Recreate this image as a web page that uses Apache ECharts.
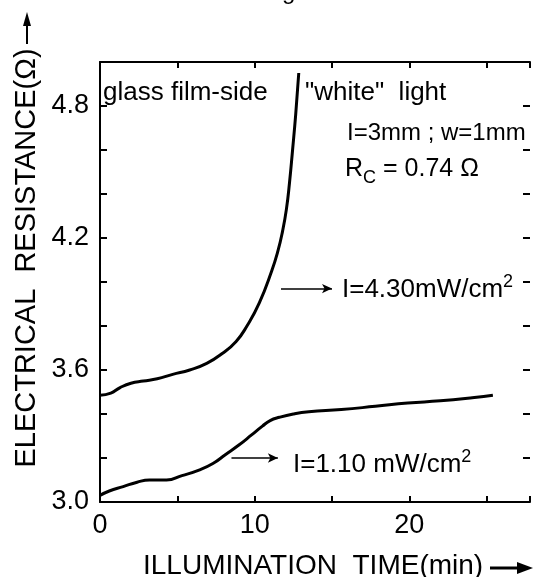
<!DOCTYPE html>
<html>
<head>
<meta charset="utf-8">
<script src="https://cdn.jsdelivr.net/npm/echarts@6/dist/echarts.min.js"></script>
<style>
	html, body { margin: 0; padding: 0; background: #fff; }
	#resChart { width: 533px; height: 577px; }
</style>
</head>
<body>
<div id="resChart"></div>
<script>
// I = 4.30 mW/cm2 curve
var timeHigh = [0, 0.7, 1.3, 2.0, 2.8, 3.7, 4.7, 5.8, 6.9, 7.9, 8.8, 9.5, 10.3, 11.1, 11.5, 11.8, 12.05, 12.25, 12.45, 12.65, 12.85];
var resHigh = [3.485, 3.495, 3.52, 3.54, 3.55, 3.56, 3.58, 3.60, 3.63, 3.675, 3.73, 3.80, 3.905, 4.05, 4.14, 4.23, 4.33, 4.45, 4.60, 4.76, 4.95];
// I = 1.10 mW/cm2 curve
var timeLow = [0, 0.6, 1.5, 2.4, 3.2, 4.3, 5.3, 6.4, 7.3, 8.1, 9.0, 9.8, 10.5, 11.0, 11.6, 12.5, 13.5, 15.6, 17.8, 19.9, 22.0, 24.2, 25.4];
var resLow = [3.03, 3.05, 3.07, 3.09, 3.10, 3.10, 3.12, 3.145, 3.175, 3.215, 3.26, 3.305, 3.345, 3.37, 3.385, 3.40, 3.41, 3.42, 3.435, 3.45, 3.46, 3.475, 3.485];
var xTickLabels = [0, 10, 20];
var yTickLabels = [3.0, 3.6, 4.2, 4.8];

var font = 'Liberation Sans';

function pairs(xs, ys) {
	var out = [];
	for (var i = 0; i < xs.length; i++) {
		out.push([xs[i], ys[i]]);
	}
	return out;
}

function hasLabel(list, v) {
	for (var i = 0; i < list.length; i++) {
		if (Math.abs(list[i] - v) < 1e-6) return true;
	}
	return false;
}

function axisX(pos, showLabel) {
	return {
		type: 'value',
		position: pos,
		min: 0,
		max: 27.8,
		interval: 5,
		splitLine: { show: false },
		axisLine: { show: true, onZero: false, lineStyle: { color: '#000', width: 2 } },
		axisTick: { show: true, inside: true, length: 6, lineStyle: { color: '#000', width: 2 } },
		axisLabel: {
			show: showLabel,
			margin: 10,
			color: '#000',
			fontFamily: font,
			fontSize: 27,
			formatter: function(v) { return hasLabel(xTickLabels, v) ? String(v) : ''; }
		}
	};
}

function axisY(pos, showLabel, showLine) {
	return {
		type: 'value',
		position: pos,
		min: 3.0,
		max: 5.0,
		interval: 0.2,
		splitLine: { show: false },
		axisLine: { show: showLine, onZero: false, lineStyle: { color: '#000', width: 2 } },
		axisTick: { show: true, inside: true, length: 7, lineStyle: { color: '#000', width: 2 } },
		axisLabel: {
			show: showLabel,
			margin: 11,
			color: '#000',
			fontFamily: font,
			fontSize: 27,
			formatter: function(v) { return hasLabel(yTickLabels, v) ? v.toFixed(1) : ''; }
		}
	};
}

function txt(x, y, text, size, rich) {
	var st = {
		text: text,
		x: x,
		y: y,
		fill: '#000',
		fontFamily: font,
		fontSize: size,
		textAlign: 'left',
		align: 'left',
		textVerticalAlign: 'middle',
		verticalAlign: 'middle'
	};
	if (rich) st.rich = rich;
	return { type: 'text', style: st };
}

var supRich = {
	a: { fontFamily: font, fontSize: 26, lineHeight: 30, verticalAlign: 'bottom' },
	s: { fontFamily: font, fontSize: 18, lineHeight: 30, verticalAlign: 'top' }
};
var subRich = {
	a: { fontFamily: font, fontSize: 25, lineHeight: 30, verticalAlign: 'top' },
	b: { fontFamily: font, fontSize: 18, lineHeight: 30, verticalAlign: 'bottom' }
};

var chart = echarts.init(document.getElementById('resChart'));
var option = {
	backgroundColor: '#fff',
	animation: false,
	grid: { left: 100, top: 62, width: 433, height: 440 },
	xAxis: [axisX('bottom', true), axisX('top', false)],
	yAxis: [axisY('left', true, true), axisY('right', false, false)],
	series: [{
		name: 'I=4.30mW/cm2',
		type: 'line',
		data: pairs(timeHigh, resHigh),
		smooth: 0.5,
		showSymbol: false,
		lineStyle: { color: '#000', width: 3 },
		markLine: {
			silent: true,
			symbol: ['none', 'arrow'],
			symbolSize: [7, 10],
			label: { show: false },
			lineStyle: { color: '#000', width: 1.5, type: 'solid' },
			data: [[{ coord: [11.7, 3.97] }, { coord: [15.0, 3.97] }]]
		}
	}, {
		name: 'I=1.10mW/cm2',
		type: 'line',
		data: pairs(timeLow, resLow),
		smooth: 0.5,
		showSymbol: false,
		lineStyle: { color: '#000', width: 3 },
		markLine: {
			silent: true,
			symbol: ['none', 'arrow'],
			symbolSize: [7, 10],
			label: { show: false },
			lineStyle: { color: '#000', width: 1.5, type: 'solid' },
			data: [[{ coord: [8.5, 3.2] }, { coord: [11.5, 3.2] }]]
		}
	}],
	graphic: [
		// figure caption, cut at the top edge
		{ type: 'text', style: { text: 'Fig. 2', x: 292, y: 4, fill: '#000', fontFamily: font, fontSize: 24,
			textAlign: 'center', align: 'center', textVerticalAlign: 'bottom', verticalAlign: 'bottom' } },
		// axis names
		{ type: 'text', x: 27, y: 258, rotation: Math.PI / 2,
			style: { text: 'ELECTRICAL  RESISTANCE(Ω)', x: 0, y: 0, fill: '#000', fontFamily: font, fontSize: 29,
				textAlign: 'center', align: 'center', textVerticalAlign: 'middle', verticalAlign: 'middle' } },
		{ type: 'line', shape: { x1: 27, y1: 44, x2: 27, y2: 22 }, style: { stroke: '#000', lineWidth: 2 } },
		{ type: 'polygon', shape: { points: [[27, 12], [23, 26], [31, 26]] }, style: { fill: '#000' } },
		txt(143, 566, 'ILLUMINATION  TIME(min)', 28),
		{ type: 'line', shape: { x1: 490, y1: 568, x2: 520, y2: 568 }, style: { stroke: '#000', lineWidth: 3 } },
		{ type: 'polygon', shape: { points: [[533, 568], [517, 562], [517, 574]] }, style: { fill: '#000' } },
		// annotations
		txt(103, 93, 'glass film-side', 26),
		txt(305, 93, '"white"  light', 26),
		txt(347, 133, 'I=3mm ; w=1mm', 24),
		txt(345, 172, '{a|R}{b|C}{a| = 0.74 Ω}', 25, subRich),
		txt(342, 288, '{a|I=4.30mW/cm}{s|2}', 26, supRich),
		txt(293, 463, '{a|I=1.10 mW/cm}{s|2}', 26, supRich)
	]
};
chart.setOption(option);
</script>
</body>
</html>
